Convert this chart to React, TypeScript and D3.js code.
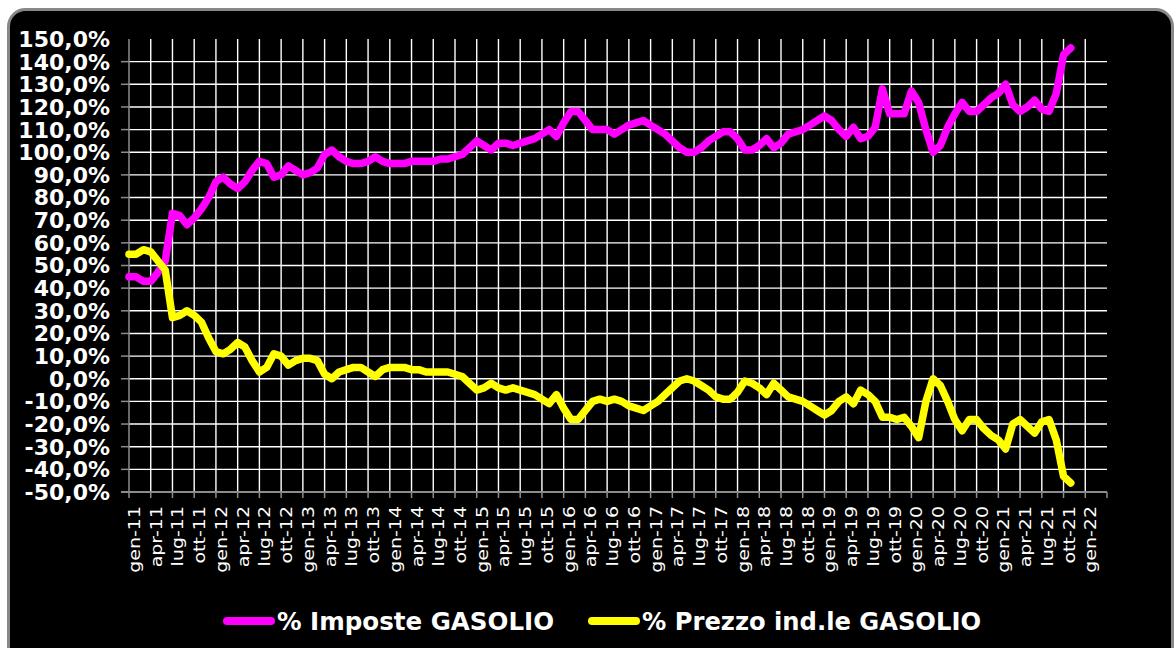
import * as d3 from 'd3';

// Quarterly category labels of the date axis
const quarterLabels = [
  'gen-11', 'apr-11', 'lug-11', 'ott-11',
  'gen-12', 'apr-12', 'lug-12', 'ott-12',
  'gen-13', 'apr-13', 'lug-13', 'ott-13',
  'gen-14', 'apr-14', 'lug-14', 'ott-14',
  'gen-15', 'apr-15', 'lug-15', 'ott-15',
  'gen-16', 'apr-16', 'lug-16', 'ott-16',
  'gen-17', 'apr-17', 'lug-17', 'ott-17',
  'gen-18', 'apr-18', 'lug-18', 'ott-18',
  'gen-19', 'apr-19', 'lug-19', 'ott-19',
  'gen-20', 'apr-20', 'lug-20', 'ott-20',
  'gen-21', 'apr-21', 'lug-21', 'ott-21',
  'gen-22',
];

const yTicks = [-50, -40, -30, -20, -10, 0, 10, 20, 30, 40, 50, 60, 70, 80, 90, 100, 110, 120, 130, 140, 150];

// monthly values, gen-11 .. nov-21 (%)
const imposte = [
  45, 45, 43, 43, 47, 52, 73, 72, 68, 71, 75, 80,
  87, 89, 86, 84, 87, 92, 96, 95, 89, 90, 94, 92,
  90, 91, 93, 99, 101, 98, 96, 95, 95, 96, 98, 96,
  95, 95, 95, 96, 96, 96, 96, 97, 97, 98, 99, 102,
  105, 103, 101, 104, 104, 103, 104, 105, 106, 108, 110, 107,
  113, 118, 118, 114, 110, 110, 110, 108, 110, 112, 113, 114,
  112, 110, 108, 105, 102, 100, 100, 102, 105, 107, 109, 109,
  106, 101, 101, 103, 106, 102, 104, 108, 109, 110, 112, 114,
  116, 114, 110, 107, 111, 106, 107, 111, 128, 117, 117, 117,
  127, 122, 110, 100, 103, 111, 117, 122, 118, 118, 121, 124,
  126, 130, 121, 118, 120, 123, 119, 118, 126, 143, 146,
];

const prezzo = [
  55, 55, 57, 56, 52, 48, 27, 28, 30, 28, 25, 18,
  12, 11, 13, 16, 14, 8, 3, 5, 11, 10, 6, 8,
  9, 9, 8, 2, 0, 3, 4, 5, 5, 3, 1, 4,
  5, 5, 5, 4, 4, 3, 3, 3, 3, 2, 1, -2,
  -5, -4, -2, -4, -5, -4, -5, -6, -7, -9, -11, -7,
  -13, -18, -18, -14, -10, -9, -10, -9, -10, -12, -13, -14,
  -12, -10, -7, -4, -1, 0, -1, -3, -5, -8, -9, -9,
  -6, -1, -2, -4, -7, -2, -5, -8, -9, -10, -12, -14,
  -16, -14, -10, -8, -11, -5, -7, -10, -17, -17, -18, -17,
  -21, -26, -10, 0, -3, -10, -18, -23, -18, -18, -22, -25,
  -27, -31, -20, -18, -21, -24, -19, -18, -27, -43, -46,
];

const seriesNames = ['% Imposte GASOLIO', '% Prezzo ind.le GASOLIO'];
const seriesColors = ['#ff00ff', '#ffff00'];

const W = 1175;
const H = 648;
const plot = { left: 129, right: 1107, top: 39, bottom: 492 };

export default function App() {
  // axis spans gen-11 .. apr-22 in months
  const x = d3.scaleLinear().domain([0, 135]).range([plot.left, plot.right]);
  const y = d3.scaleLinear().domain([-50, 150]).range([plot.bottom, plot.top]);
  const quarterTicks = d3.range(0, 136, 3);

  const line = d3.line<number>()
    .x((_, i) => x(i))
    .y((d) => y(d));

  const axisColor = '#8c8c8c';
  const font = "'DejaVu Sans', Verdana, sans-serif";

  return (
    <div style={{ position: 'absolute', left: 0, top: 0 }}>
      <svg width={W} height={H} style={{ display: 'block', background: '#fff' }}>
        <rect x={8.5} y={9.5} width={1164} height={700} rx={17} fill="#000" stroke="#888" strokeWidth={3} />

        {/* horizontal gridlines */}
        {yTicks.filter((t) => t > -50 && t < 150).map((t) => (
          <line key={'h' + t} x1={plot.left} x2={plot.right} y1={y(t)} y2={y(t)} stroke="#fff" strokeWidth={1.4} />
        ))}
        {/* vertical gridlines */}
        {quarterTicks.filter((m) => m > 0 && m < 135).map((m) => (
          <line key={'v' + m} x1={x(m)} x2={x(m)} y1={plot.top} y2={plot.bottom} stroke="#fff" strokeWidth={1.4} />
        ))}

        {/* axes */}
        <line x1={plot.left} x2={plot.left} y1={plot.top} y2={plot.bottom} stroke={axisColor} strokeWidth={1.5} />
        <line x1={plot.left - 8} x2={plot.right} y1={plot.bottom} y2={plot.bottom} stroke={axisColor} strokeWidth={2} />
        {yTicks.filter((t) => t < 150).map((t) => (
          <line key={'yt' + t} x1={plot.left - 8} x2={plot.left} y1={y(t)} y2={y(t)} stroke={axisColor} strokeWidth={1.5} />
        ))}
        {quarterTicks.map((m) => (
          <line key={'xt' + m} x1={x(m)} x2={x(m)} y1={plot.bottom} y2={plot.bottom + 6} stroke={axisColor} strokeWidth={1.5} />
        ))}

        {/* y labels */}
        {yTicks.map((t) => (
          <text key={'yl' + t} x={110} y={y(t)} dy="0.36em" textAnchor="end"
            fontFamily={font} fontWeight="bold" fontSize={22} fill="#fff">
            {`${t},0%`}
          </text>
        ))}

        {/* x labels */}
        {quarterLabels.map((lab, k) => (
          <text key={'xl' + k}
            transform={`translate(${x(k * 3) + 11},506) rotate(-90) scale(1,0.85)`}
            textAnchor="end" fontFamily={font} fontSize={19} fill="#fff">
            {lab}
          </text>
        ))}

        {/* series */}
        <path d={line(imposte) || ''} fill="none" stroke={seriesColors[0]} strokeWidth={7.5} strokeLinejoin="round" strokeLinecap="round" />
        <path d={line(prezzo) || ''} fill="none" stroke={seriesColors[1]} strokeWidth={7.5} strokeLinejoin="round" strokeLinecap="round" />

        {/* legend */}
        <line x1={227} x2={271} y1={621} y2={621} stroke={seriesColors[0]} strokeWidth={8} strokeLinecap="round" />
        <text x={277} y={630} fontFamily={font} fontWeight="bold" fontSize={24} fill="#fff"
          textLength={277} lengthAdjust="spacingAndGlyphs">
          {seriesNames[0]}
        </text>
        <line x1={592} x2={636} y1={621} y2={621} stroke={seriesColors[1]} strokeWidth={8} strokeLinecap="round" />
        <text x={642} y={630} fontFamily={font} fontWeight="bold" fontSize={24} fill="#fff"
          textLength={339} lengthAdjust="spacingAndGlyphs">
          {seriesNames[1]}
        </text>
      </svg>
    </div>
  );
}
